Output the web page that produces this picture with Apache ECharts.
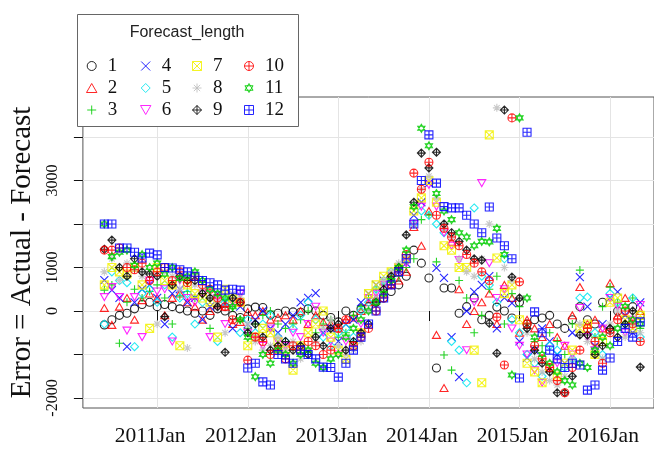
<!DOCTYPE html>
<html>
<head>
<meta charset="utf-8">
<script src="https://cdn.jsdelivr.net/npm/echarts@6/dist/echarts.min.js"></script>
<style>
html, body { margin: 0; padding: 0; background: #fff; }
#chart { width: 654px; height: 450px; }
</style>
</head>
<body>
<div id="chart"></div>
<script>
// monthly ts, first point Jun 2010
var firstMonth = 2010 + 5 / 12;

// Error = Actual - Forecast, one array per forecast length
var h1 = [-320, -200, -100, -50, 50, 150, 200, 100, 150, 100, 50, 0,
  -50, 0, -100, 50, 0, -100, -150, 50, 90, 80, -90, -50,
  0, -20, -30, 50, 0, -100, -150, -250, 0, -100, 50, 100,
  200, 300, 450, 600, 800, 1400, 1100, 760, -1310, 530, 530, -50,
  100, 300, -200, -100, 90, 0, -160, 200, -300, -200, -160, -100,
  -300, -400, -200, 100, -200, -300, 200, -440, 0, -200, 100, -100];
var h2 = [70, -320, 100, 300, -200, 250, 400, 300, -100, 300, 400, 200,
  100, -200, 0, 150, 100, -300, -250, -20, -100, 0, -200, -150,
  -100, -200, 0, -300, -100, -250, -300, -400, -200, -150, 0, 200,
  300, 400, 600, 700, 900, 1930, 1500, 2300, -550, -1770, 1590, 500,
  -300, 0, 200, 400, -300, 600, 300, -500, -200, -400, -600, -300,
  -600, -800, -100, 550, -300, -200, -400, 640, -100, 300, -200, 0];
var h3 = [480, 600, -740, 200, 500, 300, 450, 600, 300, -300, 350, 450,
  300, 400, -400, 200, 300, 100, -200, -400, -300, -100, 0, -300,
  -400, -300, -200, 0, -500, -300, -200, -600, -500, -100, 100, 300,
  500, 600, 700, 800, 1000, 1200, 2100, 2200, 1130, -1010, -1360, 700,
  300, -500, -100, 500, 800, -300, 400, 100, -300, -700, -800, -500,
  -700, -1000, -300, 940, -500, -600, 100, 550, 200, -300, 300, -400];
var h4 = [710, 480, 300, -820, 200, 500, 600, 300, -300, 400, 500, 200,
  300, -200, 100, 400, 200, -400, 100, -300, -200, 0, -400, -500,
  -300, -100, 200, 300, 410, -500, -400, -700, -300, -200, 200, 400,
  600, 700, 800, 900, 1100, 2200, 2500, 2940, 990, 760, -600, -1520,
  0, 440, 600, 800, -400, 300, 180, -700, -1080, -900, -400, -700,
  -1000, -1200, -500, 780, 100, -800, -300, 300, 440, -100, -500, 200];
var h5 = [-300, 900, 700, 650, -820, 400, 500, 200, 600, -600, 300, 400,
  -300, 200, 500, -700, 200, 300, -500, -200, -500, -300, -100, -600,
  -700, -400, -100, 200, -200, -600, -800, -500, -400, -600, 0, 200,
  500, 700, 900, 1000, 1200, 2000, 2300, 2200, 2000, 1800, -700, -900,
  -1650, 2370, 800, 600, 200, 1200, -200, -500, -1000, -1200, -1500, -800,
  -900, -1300, -1100, 300, 320, -500, -1000, 400, 200, -300, 300, -600];
var h6 = [320, 550, 320, -450, 320, -600, 700, 450, 500, -700, 700, 300,
  200, 400, -600, 300, -300, 200, 400, -500, -600, -800, -400, -700,
  -800, -500, -600, -300, 100, -500, -700, -1000, -700, -800, -300, 300,
  400, 600, 800, 1000, 1100, 2000, 2400, 2900, 2400, 1800, 1500, 1170,
  -900, 200, 2940, 1100, 300, 500, -400, -800, -1000, -1360, -1650, -1310,
  -1200, -800, -1000, 70, -600, -900, -400, 300, 100, -500, -200, 140];
var h7 = [600, 1000, 900, 850, 1000, 600, -400, 1000, 700, 600, -800, 600,
  400, 300, 200, -600, 500, 300, 200, -800, -600, -400, -500, -700,
  -900, -1360, -800, -500, -300, 0, -600, -900, -1100, -800, -500, 400,
  600, 800, 900, 1000, 1200, 2300, 2600, 3000, 2500, 1500, 1400, 1000,
  1000, -900, -1650, 4050, 1220, 400, 600, -200, -1200, -1400, -1650, -1300,
  -1500, -1200, -900, -400, -300, -1000, -700, 200, 300, -200, -400, -100];
var h8 = [900, 1200, 700, 1100, 950, 800, 900, -300, 900, 800, 500, -850,
  600, 500, 300, 200, -500, 400, 300, -300, -700, -900, -800, -600,
  -900, -700, -1100, -900, -700, -400, -200, -800, -1000, -900, -700, 0,
  300, 700, 900, 1100, 1300, 2000, 2800, 3100, 2600, 1900, 1700, 1200,
  900, 800, 1200, 2000, 4670, 1000, 700, 300, -500, -1100, -1400, -1600,
  -1700, -1500, -1100, -300, -700, -900, -1100, -300, 0, -600, -300, -500];
var h9 = [1420, 1630, 1000, 800, 1200, 900, 850, 800, -130, 600, 800, 700,
  700, 400, 300, 100, -950, 300, 200, -500, -300, -600, -900, -800,
  -700, -900, -800, -1000, -600, -800, -400, -300, -900, -700, -500, -300,
  200, 500, 800, 1000, 1750, 2500, 3630, 3290, 3650, 2000, 1800, 1600,
  1400, 1200, 1170, -280, -970, 4620, 780, 300, -400, -900, -1200, -1400,
  -1880, -1880, -1500, -550, -550, -1000, -800, -400, -600, -300, 0, -1290];
var h10 = [1400, 1400, 1450, 1000, 950, 1100, 700, 900, 1000, 700, 900, 650,
  800, 600, 500, 300, 100, -200, 200, -1130, -600, -700, -1000, -900,
  -1100, -800, -900, -700, -800, -1000, -900, -400, -200, -800, -600, -400,
  0, 300, 600, 900, 1300, 3170, 2800, 3420, 2200, 1900, 1700, 1500,
  1300, 1100, 900, 700, -140, -1240, 4440, 670, -300, -800, -1100, -1300,
  -1600, -1880, -1300, -900, -400, -700, -1200, -500, -200, 0, -300, -700];
var h11 = [2000, 1250, 1350, 1400, 1050, 1300, 1000, 1100, 850, 1000, 750, 800,
  900, 700, 500, 400, 300, 100, -200, -600, -1510, -1000, -1200, -900,
  -1000, -1200, -1000, -900, -1200, -1300, -1100, -1000, -600, -400, -200, 0,
  200, 400, 700, 1000, 1400, 2400, 4200, 3800, 2700, 2300, 2100, 1800,
  1700, 1500, 1600, 1590, 1900, 1300, -1470, 4440, 300, -600, -1000, -1200,
  -1400, -1600, -1700, -1200, -1300, -900, -600, -800, -400, 100, -200, -300];
var h12 = [2000, 2000, 1450, 1450, 1350, 1220, 1330, 1290, 1000, 990, 950, 900,
  800, 700, 650, 600, 480, 500, 480, -1310, -1200, -1630, -1700, -1000,
  -1100, -1200, -900, -1000, -1100, -1290, -1300, -1520, -1200, -900, -600, -300,
  0, 300, 600, 900, 1200, 2000, 3000, 4050, 2940, 2400, 2370, 2370,
  2200, 2000, 1800, 2390, 1680, 1500, 1200, -1540, 4110, -20, -500, -900,
  -1100, -1300, -1200, -1240, -1820, -1700, -1360, -1080, -700, -400, -600, -250];

var lengths = ['1', '2', '3', '4', '5', '6', '7', '8', '9', '10', '11', '12'];
var errors = [h1, h2, h3, h4, h5, h6, h7, h8, h9, h10, h11, h12];
var yearTicks = [2011, 2012, 2013, 2014, 2015, 2016];
var yTicks = [-2000, -1000, 0, 1000, 2000, 3000, 4000];
var yLabels = [-2000, 0, 1000, 3000];

// R default palette + pch 1..12
var colors = ['#000000', '#ff0000', '#00cd00', '#0000ff', '#00e5ee', '#ff00ff',
  '#f2f200', '#bebebe', '#000000', '#ff0000', '#00cd00', '#0000ff'];
var symbols = [
  'circle',
  'path://M10 0L20 17.32L0 17.32Z',
  'path://M10 0L10 20M0 10L20 10',
  'path://M0 0L20 20M20 0L0 20',
  'path://M10 0L20 10L10 20L0 10Z',
  'path://M0 0L20 0L10 17.32Z',
  'path://M0 0L20 0L20 20L0 20ZM0 0L20 20M20 0L0 20',
  'path://M10 0L10 20M0 10L20 10M3 3L17 17M17 3L3 17',
  'path://M10 0L20 10L10 20L0 10ZM10 0L10 20M0 10L20 10',
  'path://M0 10A10 10 0 1 1 20 10A10 10 0 1 1 0 10ZM10 0L10 20M0 10L20 10',
  'path://M10 0L19 15L1 15ZM10 20L1 5L19 5Z',
  'path://M0 0L20 0L20 20L0 20ZM10 0L10 20M0 10L20 10'
];

var serif = 'Liberation Serif';
var chart = echarts.init(document.getElementById('chart'));

var series = errors.map(function (vals, i) {
  return {
    name: lengths[i],
    type: 'scatter',
    symbol: symbols[i],
    symbolSize: 8,
    symbolKeepAspect: true,
    itemStyle: { color: 'rgba(0,0,0,0)', borderColor: colors[i], borderWidth: 1.1, opacity: 0.85 },
    emphasis: { disabled: true },
    data: vals.map(function (v, m) { return [firstMonth + m / 12, v]; })
  };
});

// legend in 4 columns of 3
var legendLeft = [81, 135, 187, 239];
var legends = legendLeft.map(function (x, c) {
  return {
    orient: 'vertical',
    left: x,
    top: 51,
    z: 110,
    itemWidth: 22,
    itemHeight: 9,
    itemGap: 2,
    selectedMode: false,
    itemStyle: { borderWidth: 1 },
    textStyle: { fontFamily: serif, fontSize: 19, lineHeight: 20, color: '#111' },
    data: lengths.slice(c * 3, c * 3 + 3)
  };
});

option = {
  animation: false,
  backgroundColor: '#fff',
  grid: {
    left: 77, top: 97, right: -2, bottom: 42,
    show: true, borderColor: '#555', borderWidth: 1
  },
  legend: legends,
  xAxis: {
    type: 'value',
    min: 2010.18,
    max: 2016.485,
    splitNumber: 7,
    axisLine: { show: false },
    axisTick: { show: true, length: 10, lineStyle: { color: '#111' }, customValues: yearTicks },
    axisLabel: {
      customValues: yearTicks,
      margin: 17,
      padding: [0, 14, 0, 0],
      fontFamily: serif, fontSize: 21.5, color: '#111',
      formatter: function (v) { return v + 'Jan'; }
    },
    splitLine: { show: true, lineStyle: { color: '#e4e4e4' } }
  },
  yAxis: {
    type: 'value',
    min: -2230,
    max: 4920,
    splitNumber: 7,
    name: 'Error = Actual - Forecast',
    nameLocation: 'middle',
    nameGap: 41,
    nameTextStyle: { fontFamily: serif, fontSize: 29, color: '#111' },
    axisLine: { show: false },
    axisTick: { show: true, length: 9, lineStyle: { color: '#111' }, customValues: yTicks },
    axisLabel: {
      customValues: yLabels,
      rotate: 90,
      margin: 22,
      fontFamily: serif, fontSize: 16, color: '#111',
      formatter: function (v) { return String(v); }
    },
    splitLine: { show: true, lineStyle: { color: '#e4e4e4' } }
  },
  graphic: [
    {
      type: 'rect', z: 100,
      shape: { x: 77.5, y: 14.5, width: 221, height: 112 },
      style: { fill: '#fff', stroke: '#666', lineWidth: 1 }
    },
    {
      type: 'text', z: 110, x: 187, y: 33,
      style: {
        text: 'Forecast_length', fontFamily: 'Liberation Sans', fontSize: 16,
        fill: '#222', align: 'center', verticalAlign: 'middle'
      }
    }
  ],
  series: series
};
chart.setOption(option);
</script>
</body>
</html>
